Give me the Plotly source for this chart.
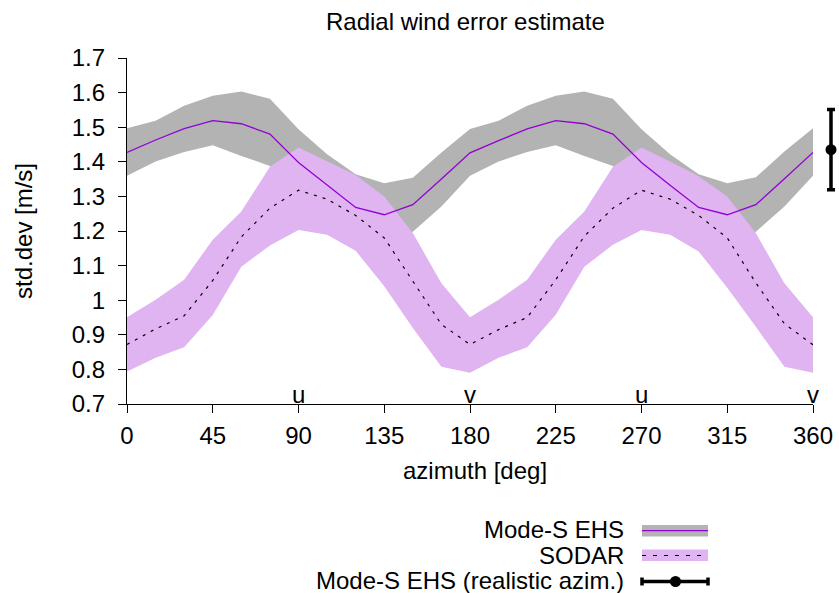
import plotly.graph_objects as go

# ---- data ----
azimuth = [0, 15, 30, 45, 60, 75, 90, 105, 120, 135, 150, 165, 180,
           195, 210, 225, 240, 255, 270, 285, 300, 315, 330, 345, 360]

modes_mean = [1.427, 1.463, 1.496, 1.519, 1.510, 1.480, 1.398, 1.332, 1.268, 1.247, 1.276, 1.350, 1.426,
              1.461, 1.495, 1.519, 1.510, 1.480, 1.398, 1.332, 1.268, 1.247, 1.276, 1.351, 1.427]
modes_upper = [1.497, 1.519, 1.562, 1.591, 1.603, 1.582, 1.494, 1.422, 1.364, 1.338, 1.354, 1.427, 1.495,
               1.519, 1.562, 1.591, 1.603, 1.582, 1.494, 1.422, 1.364, 1.338, 1.355, 1.430, 1.497]
modes_lower = [1.360, 1.401, 1.428, 1.448, 1.417, 1.388, 1.320, 1.250, 1.190, 1.165, 1.198, 1.271, 1.360,
               1.401, 1.428, 1.448, 1.417, 1.388, 1.320, 1.250, 1.190, 1.165, 1.198, 1.271, 1.360]

sodar_mean = [0.872, 0.917, 0.955, 1.057, 1.183, 1.266, 1.318, 1.292, 1.245, 1.180, 1.055, 0.930, 0.872,
              0.915, 0.950, 1.059, 1.185, 1.266, 1.318, 1.292, 1.245, 1.180, 1.050, 0.932, 0.871]
sodar_upper = [0.951, 1.001, 1.059, 1.175, 1.256, 1.386, 1.441, 1.401, 1.362, 1.300, 1.194, 1.049, 0.951,
               1.001, 1.059, 1.175, 1.256, 1.386, 1.441, 1.401, 1.358, 1.300, 1.194, 1.049, 0.951]
sodar_lower = [0.794, 0.834, 0.864, 0.957, 1.097, 1.158, 1.203, 1.189, 1.143, 1.040, 0.920, 0.808, 0.790,
               0.834, 0.864, 0.958, 1.097, 1.160, 1.203, 1.189, 1.141, 1.036, 0.923, 0.808, 0.790]

# single "realistic azimuth" estimate, drawn right of the azimuth axis
realistic_x = [0]
realistic_y = [1.435]
realistic_err = [0.116]

x_ticks = [0, 45, 90, 135, 180, 225, 270, 315, 360]
comp_labels_x = [90, 180, 270, 360]
comp_labels = ["u", "v", "u", "v"]

title = "Radial wind error estimate"
xlabel = "azimuth [deg]"
ylabel = "std.dev [m/s]"
legend_names = ["Mode-S EHS", "SODAR", "Mode-S EHS (realistic azim.)"]

# ---- style ----
FONT = "Liberation Sans"
FS = 24
GREY = "#b3b3b3"
PLUM = "#dfb4f1"
VIOLET = "#9400d3"

W, H = 839, 593
ML, MR, MT, MB = 127, 0, 58, 189
PW = W - ML - MR
PH = H - MT - MB


def px(xp):
    return (xp - ML) / PW


def py(yp):
    return (H - MB - yp) / PH


fig = go.Figure()

# grey band
fig.add_trace(go.Scatter(
    x=azimuth + azimuth[::-1], y=modes_upper + modes_lower[::-1],
    fill="toself", fillcolor=GREY, line=dict(width=0), mode="lines",
    showlegend=False, hoverinfo="skip"))
# plum band
fig.add_trace(go.Scatter(
    x=azimuth + azimuth[::-1], y=sodar_upper + sodar_lower[::-1],
    fill="toself", fillcolor=PLUM, line=dict(width=0), mode="lines",
    showlegend=False, hoverinfo="skip"))
# Mode-S mean
fig.add_trace(go.Scatter(
    x=azimuth, y=modes_mean, mode="lines",
    line=dict(color=VIOLET, width=1.3), showlegend=False))
# SODAR mean
fig.add_trace(go.Scatter(
    x=azimuth, y=sodar_mean, mode="lines",
    line=dict(color="black", width=1.2, dash="3px,6px"), showlegend=False))
# realistic azimuth point (separate narrow x axis at the right)
fig.add_trace(go.Scatter(
    x=realistic_x, y=realistic_y, mode="markers", xaxis="x2", yaxis="y",
    marker=dict(color="black", size=11),
    error_y=dict(type="data", array=realistic_err, color="black", thickness=3.5, width=4),
    showlegend=False))

annotations = []
for xv, lab in zip(comp_labels_x, comp_labels):
    annotations.append(dict(x=xv, y=0.7, xref="x", yref="y", text=lab, showarrow=False,
                            yanchor="bottom", xanchor="center", yshift=-6,
                            font=dict(family=FONT, size=FS, color="black")))

annotations.append(dict(x=px(465), y=py(21), xref="paper", yref="paper", text=title,
                        showarrow=False, xanchor="center", yanchor="middle",
                        font=dict(family=FONT, size=FS, color="black")))
annotations.append(dict(x=px(475), y=py(470), xref="paper", yref="paper", text=xlabel,
                        showarrow=False, xanchor="center", yanchor="middle",
                        font=dict(family=FONT, size=FS, color="black")))
annotations.append(dict(x=px(23), y=py(231), xref="paper", yref="paper", text=ylabel,
                        showarrow=False, xanchor="center", yanchor="middle", textangle=-90,
                        font=dict(family=FONT, size=FS, color="black")))

leg_y = [529, 555, 580]
for name, ly in zip(legend_names, leg_y):
    annotations.append(dict(x=px(626), y=py(ly), xref="paper", yref="paper", text=name,
                            showarrow=False, xanchor="right", yanchor="middle",
                            font=dict(family=FONT, size=FS, color="black")))

shapes = []
# legend sample: Mode-S band + line
shapes.append(dict(type="rect", xref="paper", yref="paper", x0=px(642), x1=px(708),
                   y0=py(525), y1=py(536.5), fillcolor=GREY, line=dict(width=0)))
shapes.append(dict(type="line", xref="paper", yref="paper", x0=px(642), x1=px(708),
                   y0=py(530.7), y1=py(530.7), line=dict(color=VIOLET, width=1.3)))
# legend sample: SODAR band + dashed
shapes.append(dict(type="rect", xref="paper", yref="paper", x0=px(642), x1=px(708),
                   y0=py(549.5), y1=py(561), fillcolor=PLUM, line=dict(width=0)))
shapes.append(dict(type="line", xref="paper", yref="paper", x0=px(642), x1=px(708),
                   y0=py(555.5), y1=py(555.5), line=dict(color="black", width=1.2, dash="4px,7px")))
# legend sample: errorbar
shapes.append(dict(type="line", xref="paper", yref="paper", x0=px(642), x1=px(708),
                   y0=py(581.5), y1=py(581.5), line=dict(color="black", width=3.5)))
for xe in (642, 708):
    shapes.append(dict(type="line", xref="paper", yref="paper", x0=px(xe), x1=px(xe),
                       y0=py(577.5), y1=py(585.5), line=dict(color="black", width=3.5)))
shapes.append(dict(type="circle", xref="paper", yref="paper", x0=px(670), x1=px(681),
                   y0=py(576), y1=py(587), fillcolor="black", line=dict(width=0)))

fig.update_layout(
    width=W, height=H, margin=dict(l=ML, r=MR, t=MT, b=MB, autoexpand=False),
    plot_bgcolor="white", paper_bgcolor="white",
    font=dict(family=FONT, size=FS, color="black"),
    showlegend=False, annotations=annotations, shapes=shapes,
    xaxis=dict(domain=[0, px(813)], range=[0, 360], tickvals=x_ticks, ticks="outside", ticklen=8,
               tickwidth=1.3, tickcolor="black", showline=True, linecolor="black",
               linewidth=1.3, showgrid=False, zeroline=False, mirror=False,
               ticklabelstandoff=2, automargin=False,
               tickfont=dict(family=FONT, size=FS, color="black")),
    xaxis2=dict(domain=[px(823), 1.0], range=[-1, 1], anchor="y", visible=False,
                fixedrange=True, automargin=False),
    yaxis=dict(range=[0.7, 1.7], dtick=0.1, tick0=0.7, ticks="outside", ticklen=8,
               tickwidth=1.3, tickcolor="black", showline=True, linecolor="black",
               linewidth=1.3, showgrid=False, zeroline=False, mirror=False,
               ticklabelstandoff=8, automargin=False,
               tickfont=dict(family=FONT, size=FS, color="black")),
)

fig.write_html("out.html")
